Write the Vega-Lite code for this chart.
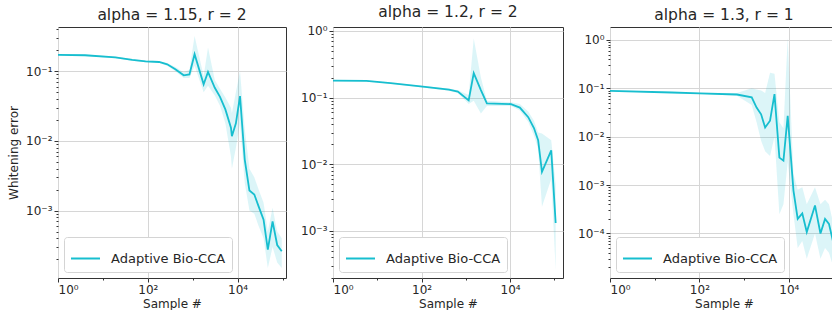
{
  "$schema": "https://vega.github.io/schema/vega-lite/v6.json",
  "padding": {"left": 7, "top": 4, "right": -5, "bottom": 0},
  "background": "white",
  "spacing": 13,
  "data": {"values": [
    {"p":1,"x":1,"y":0.172,"lo":0.168,"hi":0.176,"s":"Adaptive Bio-CCA"},
    {"p":1,"x":4,"y":0.17,"lo":0.166,"hi":0.174,"s":"Adaptive Bio-CCA"},
    {"p":1,"x":19,"y":0.158,"lo":0.154,"hi":0.162,"s":"Adaptive Bio-CCA"},
    {"p":1,"x":45,"y":0.146,"lo":0.142,"hi":0.15,"s":"Adaptive Bio-CCA"},
    {"p":1,"x":89,"y":0.139,"lo":0.135,"hi":0.143,"s":"Adaptive Bio-CCA"},
    {"p":1,"x":178,"y":0.136,"lo":0.131,"hi":0.141,"s":"Adaptive Bio-CCA"},
    {"p":1,"x":270,"y":0.126,"lo":0.12,"hi":0.132,"s":"Adaptive Bio-CCA"},
    {"p":1,"x":410,"y":0.107,"lo":0.1,"hi":0.115,"s":"Adaptive Bio-CCA"},
    {"p":1,"x":630,"y":0.0875,"lo":0.08,"hi":0.097,"s":"Adaptive Bio-CCA"},
    {"p":1,"x":845,"y":0.09,"lo":0.08,"hi":0.105,"s":"Adaptive Bio-CCA"},
    {"p":1,"x":1100,"y":0.176,"lo":0.12,"hi":0.32,"s":"Adaptive Bio-CCA"},
    {"p":1,"x":1750,"y":0.065,"lo":0.05,"hi":0.085,"s":"Adaptive Bio-CCA"},
    {"p":1,"x":2190,"y":0.098,"lo":0.062,"hi":0.22,"s":"Adaptive Bio-CCA"},
    {"p":1,"x":3100,"y":0.058,"lo":0.045,"hi":0.075,"s":"Adaptive Bio-CCA"},
    {"p":1,"x":4050,"y":0.043,"lo":0.032,"hi":0.056,"s":"Adaptive Bio-CCA"},
    {"p":1,"x":5330,"y":0.0284,"lo":0.018,"hi":0.042,"s":"Adaptive Bio-CCA"},
    {"p":1,"x":7100,"y":0.0155,"lo":0.006,"hi":0.03,"s":"Adaptive Bio-CCA"},
    {"p":1,"x":7450,"y":0.0117,"lo":0.004,"hi":0.025,"s":"Adaptive Bio-CCA"},
    {"p":1,"x":9150,"y":0.0179,"lo":0.008,"hi":0.05,"s":"Adaptive Bio-CCA"},
    {"p":1,"x":11300,"y":0.044,"lo":0.018,"hi":0.1,"s":"Adaptive Bio-CCA"},
    {"p":1,"x":14400,"y":0.0054,"lo":0.0025,"hi":0.015,"s":"Adaptive Bio-CCA"},
    {"p":1,"x":18300,"y":0.00194,"lo":0.001,"hi":0.004,"s":"Adaptive Bio-CCA"},
    {"p":1,"x":23500,"y":0.0017,"lo":0.0009,"hi":0.003,"s":"Adaptive Bio-CCA"},
    {"p":1,"x":29300,"y":0.00115,"lo":0.0006,"hi":0.002,"s":"Adaptive Bio-CCA"},
    {"p":1,"x":37800,"y":0.00074,"lo":0.0004,"hi":0.0013,"s":"Adaptive Bio-CCA"},
    {"p":1,"x":47000,"y":0.000275,"lo":0.00015,"hi":0.0005,"s":"Adaptive Bio-CCA"},
    {"p":1,"x":60000,"y":0.0007,"lo":0.0003,"hi":0.0011,"s":"Adaptive Bio-CCA"},
    {"p":1,"x":76000,"y":0.00032,"lo":0.00018,"hi":0.0005,"s":"Adaptive Bio-CCA"},
    {"p":1,"x":96000,"y":0.00026,"lo":0.00015,"hi":0.0004,"s":"Adaptive Bio-CCA"},

    {"p":2,"x":1,"y":0.18,"lo":0.176,"hi":0.184,"s":"Adaptive Bio-CCA"},
    {"p":2,"x":5.7,"y":0.178,"lo":0.174,"hi":0.182,"s":"Adaptive Bio-CCA"},
    {"p":2,"x":20,"y":0.165,"lo":0.161,"hi":0.169,"s":"Adaptive Bio-CCA"},
    {"p":2,"x":107,"y":0.146,"lo":0.142,"hi":0.15,"s":"Adaptive Bio-CCA"},
    {"p":2,"x":415,"y":0.132,"lo":0.127,"hi":0.137,"s":"Adaptive Bio-CCA"},
    {"p":2,"x":660,"y":0.123,"lo":0.117,"hi":0.129,"s":"Adaptive Bio-CCA"},
    {"p":2,"x":1160,"y":0.091,"lo":0.08,"hi":0.11,"s":"Adaptive Bio-CCA"},
    {"p":2,"x":1510,"y":0.234,"lo":0.09,"hi":0.77,"s":"Adaptive Bio-CCA"},
    {"p":2,"x":2190,"y":0.13,"lo":0.058,"hi":0.2,"s":"Adaptive Bio-CCA"},
    {"p":2,"x":2990,"y":0.082,"lo":0.075,"hi":0.09,"s":"Adaptive Bio-CCA"},
    {"p":2,"x":10500,"y":0.08,"lo":0.075,"hi":0.085,"s":"Adaptive Bio-CCA"},
    {"p":2,"x":16600,"y":0.071,"lo":0.064,"hi":0.08,"s":"Adaptive Bio-CCA"},
    {"p":2,"x":25700,"y":0.051,"lo":0.043,"hi":0.062,"s":"Adaptive Bio-CCA"},
    {"p":2,"x":34600,"y":0.035,"lo":0.027,"hi":0.045,"s":"Adaptive Bio-CCA"},
    {"p":2,"x":43000,"y":0.023,"lo":0.017,"hi":0.03,"s":"Adaptive Bio-CCA"},
    {"p":2,"x":52500,"y":0.0077,"lo":0.0023,"hi":0.029,"s":"Adaptive Bio-CCA"},
    {"p":2,"x":85000,"y":0.0162,"lo":0.006,"hi":0.023,"s":"Adaptive Bio-CCA"},
    {"p":2,"x":107000,"y":0.00132,"lo":0.00026,"hi":0.005,"s":"Adaptive Bio-CCA"},

    {"p":3,"x":1,"y":0.089,"lo":0.087,"hi":0.091,"s":"Adaptive Bio-CCA"},
    {"p":3,"x":24,"y":0.082,"lo":0.08,"hi":0.084,"s":"Adaptive Bio-CCA"},
    {"p":3,"x":100,"y":0.079,"lo":0.077,"hi":0.081,"s":"Adaptive Bio-CCA"},
    {"p":3,"x":690,"y":0.0746,"lo":0.07,"hi":0.08,"s":"Adaptive Bio-CCA"},
    {"p":3,"x":1480,"y":0.065,"lo":0.045,"hi":0.1,"s":"Adaptive Bio-CCA"},
    {"p":3,"x":1900,"y":0.04,"lo":0.02,"hi":0.095,"s":"Adaptive Bio-CCA"},
    {"p":3,"x":2400,"y":0.029,"lo":0.0083,"hi":0.09,"s":"Adaptive Bio-CCA"},
    {"p":3,"x":2950,"y":0.0155,"lo":0.005,"hi":0.08,"s":"Adaptive Bio-CCA"},
    {"p":3,"x":3800,"y":0.0214,"lo":0.004,"hi":0.21,"s":"Adaptive Bio-CCA"},
    {"p":3,"x":4780,"y":0.076,"lo":0.01,"hi":0.2,"s":"Adaptive Bio-CCA"},
    {"p":3,"x":6150,"y":0.0037,"lo":0.00025,"hi":0.02,"s":"Adaptive Bio-CCA"},
    {"p":3,"x":7580,"y":0.0032,"lo":0.0004,"hi":0.015,"s":"Adaptive Bio-CCA"},
    {"p":3,"x":9440,"y":0.027,"lo":0.003,"hi":1.1,"s":"Adaptive Bio-CCA"},
    {"p":3,"x":12700,"y":0.00077,"lo":0.00025,"hi":0.0017,"s":"Adaptive Bio-CCA"},
    {"p":3,"x":15800,"y":0.0002,"lo":0.00005,"hi":0.0008,"s":"Adaptive Bio-CCA"},
    {"p":3,"x":20000,"y":0.00026,"lo":0.00007,"hi":0.0009,"s":"Adaptive Bio-CCA"},
    {"p":3,"x":25200,"y":0.000107,"lo":0.00003,"hi":0.0004,"s":"Adaptive Bio-CCA"},
    {"p":3,"x":38500,"y":0.00038,"lo":0.0001,"hi":0.0009,"s":"Adaptive Bio-CCA"},
    {"p":3,"x":51000,"y":0.0001,"lo":0.00003,"hi":0.0004,"s":"Adaptive Bio-CCA"},
    {"p":3,"x":64600,"y":0.0002,"lo":0.00005,"hi":0.0005,"s":"Adaptive Bio-CCA"},
    {"p":3,"x":79000,"y":0.000158,"lo":0.00004,"hi":0.0004,"s":"Adaptive Bio-CCA"},
    {"p":3,"x":100000,"y":0.0000615,"lo":0.00002,"hi":0.00015,"s":"Adaptive Bio-CCA"}
  ]},
  "config": {
    "font": "DejaVu Sans",
    "view": {"stroke": "#333333", "strokeWidth": 1},
    "title": {"fontSize": 15.5, "fontWeight": "normal", "color": "#262626", "offset": 4},
    "axis": {"domain": false, "grid": true, "gridColor": "#d6d6d6", "gridWidth": 1, "tickColor": "#333333", "labelFontSize": 12, "labelColor": "#262626", "titleFontSize": 12, "titleFontWeight": "normal", "titleColor": "#262626", "labelPadding": 2},
    "axisY": {"titlePadding": 5},
    "axisX": {"titlePadding": 3},
    "legend": {"orient": "bottom-left", "offset": 6, "padding": 6, "strokeColor": "#d4d4d4", "fillColor": "white", "cornerRadius": 3, "symbolType": "stroke", "symbolSize": 841, "symbolStrokeWidth": 2, "labelFontSize": 13, "labelColor": "#262626", "labelOffset": 10}
  },
  "resolve": {"legend": {"color": "independent"}},
  "hconcat": [
    {
      "width": 228, "height": 251,
      "title": "alpha = 1.15, r = 2",
      "transform": [{"filter": "datum.p == 1"}],
      "layer": [
        {"mark": {"type": "area", "color": "#17becf", "opacity": 0.15, "clip": true},
         "encoding": {
           "x": {"field": "x", "type": "quantitative", "title": "Sample #",
                 "scale": {"type": "log", "domain": [1, 119400], "nice": false},
                 "axis": {"values": [1, 10, 100, 1000, 10000, 100000],
                          "labelExpr": "datum.value==1?'10⁰':datum.value==100?'10²':datum.value==10000?'10⁴':''",
                          "tickSize": {"condition": {"test": "datum.value==1||datum.value==100||datum.value==10000", "value": 4}, "value": 2},
                          "gridOpacity": {"condition": {"test": "datum.value==1||datum.value==100||datum.value==10000", "value": 1}, "value": 0}}},
           "y": {"field": "lo", "type": "quantitative", "title": "Whitening error",
                 "scale": {"type": "log", "domain": [0.0001076, 0.4325], "nice": false},
                 "axis": {"values": [0.0002,0.0003,0.0004,0.0005,0.0006,0.0007,0.0008,0.0009,0.001,0.002,0.003,0.004,0.005,0.006,0.007,0.008,0.009,0.01,0.02,0.03,0.04,0.05,0.06,0.07,0.08,0.09,0.1,0.2,0.3,0.4],
                          "labelExpr": "abs(log(datum.value)/LN10 - round(log(datum.value)/LN10)) < 0.01 ? '10' + (round(log(datum.value)/LN10) < 0 ? '⁻' : '') + ['⁰','¹','²','³','⁴','⁵'][abs(round(log(datum.value)/LN10))] : ''",
                          "tickSize": {"condition": {"test": "abs(log(datum.value)/LN10 - round(log(datum.value)/LN10)) < 0.01", "value": 4}, "value": 2},
                          "gridOpacity": {"condition": {"test": "abs(log(datum.value)/LN10 - round(log(datum.value)/LN10)) < 0.01", "value": 1}, "value": 0}}},
           "y2": {"field": "hi"}
         }},
        {"mark": {"type": "line", "strokeWidth": 1.8, "clip": true},
         "encoding": {
           "x": {"field": "x", "type": "quantitative", "title": "Sample #"},
           "y": {"field": "y", "type": "quantitative", "title": "Whitening error"},
           "color": {"field": "s", "type": "nominal", "scale": {"range": ["#17becf"]}, "legend": {"title": null}}
         }}
      ]
    },
    {
      "width": 230, "height": 251,
      "title": "alpha = 1.2, r = 2",
      "transform": [{"filter": "datum.p == 2"}],
      "layer": [
        {"mark": {"type": "area", "color": "#17becf", "opacity": 0.15, "clip": true},
         "encoding": {
           "x": {"field": "x", "type": "quantitative", "title": "Sample #",
                 "scale": {"type": "log", "domain": [1, 156700], "nice": false},
                 "axis": {"values": [1, 10, 100, 1000, 10000, 100000],
                          "labelExpr": "datum.value==1?'10⁰':datum.value==100?'10²':datum.value==10000?'10⁴':''",
                          "tickSize": {"condition": {"test": "datum.value==1||datum.value==100||datum.value==10000", "value": 4}, "value": 2},
                          "gridOpacity": {"condition": {"test": "datum.value==1||datum.value==100||datum.value==10000", "value": 1}, "value": 0}}},
           "y": {"field": "lo", "type": "quantitative", "title": null,
                 "scale": {"type": "log", "domain": [0.000197, 1.148], "nice": false},
                 "axis": {"values": [0.0002,0.0003,0.0004,0.0005,0.0006,0.0007,0.0008,0.0009,0.001,0.002,0.003,0.004,0.005,0.006,0.007,0.008,0.009,0.01,0.02,0.03,0.04,0.05,0.06,0.07,0.08,0.09,0.1,0.2,0.3,0.4,0.5,0.6,0.7,0.8,0.9,1],
                          "labelExpr": "abs(log(datum.value)/LN10 - round(log(datum.value)/LN10)) < 0.01 ? '10' + (round(log(datum.value)/LN10) < 0 ? '⁻' : '') + ['⁰','¹','²','³','⁴','⁵'][abs(round(log(datum.value)/LN10))] : ''",
                          "tickSize": {"condition": {"test": "abs(log(datum.value)/LN10 - round(log(datum.value)/LN10)) < 0.01", "value": 4}, "value": 2},
                          "gridOpacity": {"condition": {"test": "abs(log(datum.value)/LN10 - round(log(datum.value)/LN10)) < 0.01", "value": 1}, "value": 0}}},
           "y2": {"field": "hi"}
         }},
        {"mark": {"type": "line", "strokeWidth": 1.8, "clip": true},
         "encoding": {
           "x": {"field": "x", "type": "quantitative", "title": "Sample #"},
           "y": {"field": "y", "type": "quantitative", "title": null},
           "color": {"field": "s", "type": "nominal", "scale": {"range": ["#17becf"]}, "legend": {"title": null}}
         }}
      ]
    },
    {
      "width": 228, "height": 251,
      "title": "alpha = 1.3, r = 1",
      "transform": [{"filter": "datum.p == 3"}],
      "layer": [
        {"mark": {"type": "area", "color": "#17becf", "opacity": 0.15, "clip": true},
         "encoding": {
           "x": {"field": "x", "type": "quantitative", "title": "Sample #",
                 "scale": {"type": "log", "domain": [1, 125900], "nice": false},
                 "axis": {"values": [1, 10, 100, 1000, 10000, 100000],
                          "labelExpr": "datum.value==1?'10⁰':datum.value==100?'10²':datum.value==10000?'10⁴':''",
                          "tickSize": {"condition": {"test": "datum.value==1||datum.value==100||datum.value==10000", "value": 4}, "value": 2},
                          "gridOpacity": {"condition": {"test": "datum.value==1||datum.value==100||datum.value==10000", "value": 1}, "value": 0}}},
           "y": {"field": "lo", "type": "quantitative", "title": null,
                 "scale": {"type": "log", "domain": [0.000012, 1.854], "nice": false},
                 "axis": {"values": [0.00002,0.00003,0.00004,0.00005,0.00006,0.00007,0.00008,0.00009,0.0001,0.0002,0.0003,0.0004,0.0005,0.0006,0.0007,0.0008,0.0009,0.001,0.002,0.003,0.004,0.005,0.006,0.007,0.008,0.009,0.01,0.02,0.03,0.04,0.05,0.06,0.07,0.08,0.09,0.1,0.2,0.3,0.4,0.5,0.6,0.7,0.8,0.9,1],
                          "labelExpr": "abs(log(datum.value)/LN10 - round(log(datum.value)/LN10)) < 0.01 ? '10' + (round(log(datum.value)/LN10) < 0 ? '⁻' : '') + ['⁰','¹','²','³','⁴','⁵'][abs(round(log(datum.value)/LN10))] : ''",
                          "tickSize": {"condition": {"test": "abs(log(datum.value)/LN10 - round(log(datum.value)/LN10)) < 0.01", "value": 4}, "value": 2},
                          "gridOpacity": {"condition": {"test": "abs(log(datum.value)/LN10 - round(log(datum.value)/LN10)) < 0.01", "value": 1}, "value": 0}}},
           "y2": {"field": "hi"}
         }},
        {"mark": {"type": "line", "strokeWidth": 1.8, "clip": true},
         "encoding": {
           "x": {"field": "x", "type": "quantitative", "title": "Sample #"},
           "y": {"field": "y", "type": "quantitative", "title": null},
           "color": {"field": "s", "type": "nominal", "scale": {"range": ["#17becf"]}, "legend": {"title": null}}
         }}
      ]
    }
  ]
}
